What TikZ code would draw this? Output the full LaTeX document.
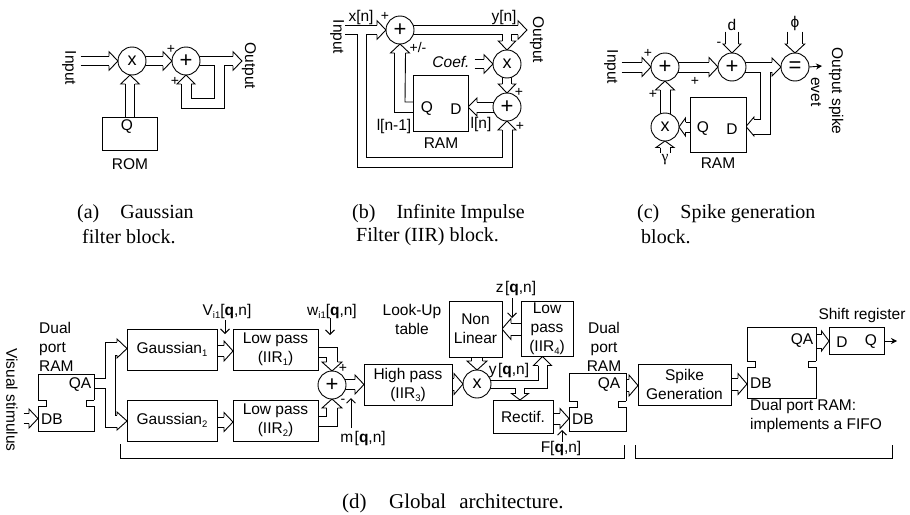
\documentclass[tikz,border=0pt]{standalone}
\usepackage{fontspec}
\setmainfont{Liberation Sans}
\newfontfamily\capfont{Liberation Serif}
\usetikzlibrary{arrows.meta,calc}
\pgfdeclarelayer{bg}\pgfsetlayers{bg,main}
\newcommand{\lowsub}[1]{\raisebox{-3pt}{\fontsize{9.5}{9.5}\selectfont #1}}
\newcommand{\qn}{\textbf{q},n}
\def\chevL{9}
% open arrow head: {tip}{rotation}{centre-line distance}{wing}
\newcommand{\chev}[4]{\draw[ln,shift={(#1)},rotate=#2] (-\chevL,{#3/2}) -- (-\chevL,{#3/2+#4}) -- (0,0) -- (-\chevL,{-#3/2-#4}) -- (-\chevL,{-#3/2});}
% two-line connector: [wing]{distance}{start}{tip}
\newcommand{\dblR}[4][4.5]{%
  \draw[ln] ($(#3 |- #4)+(-1.5,{-#2/2})$) -- ($(#4)+(-\chevL,{-#2/2})$);
  \draw[ln] ($(#3 |- #4)+(-1.5,{#2/2})$) -- ($(#4)+(-\chevL,{#2/2})$);
  \chev{#4}{0}{#2}{#1}}
\newcommand{\dblL}[4][4.5]{%
  \draw[ln] ($(#3 |- #4)+(1.5,{-#2/2})$) -- ($(#4)+(\chevL,{-#2/2})$);
  \draw[ln] ($(#3 |- #4)+(1.5,{#2/2})$) -- ($(#4)+(\chevL,{#2/2})$);
  \chev{#4}{180}{#2}{#1}}
\newcommand{\dblU}[4][4.5]{%
  \draw[ln] ($(#4 |- #3)+({-#2/2},1.5)$) -- ($(#4)+({-#2/2},\chevL)$);
  \draw[ln] ($(#4 |- #3)+({#2/2},1.5)$) -- ($(#4)+({#2/2},\chevL)$);
  \chev{#4}{90}{#2}{#1}}
\newcommand{\dblD}[4][4.5]{%
  \draw[ln] ($(#4 |- #3)+({-#2/2},-1.5)$) -- ($(#4)+({-#2/2},-\chevL)$);
  \draw[ln] ($(#4 |- #3)+({#2/2},-1.5)$) -- ($(#4)+({#2/2},-\chevL)$);
  \chev{#4}{-90}{#2}{#1}}
\newcommand{\ramtabs}[3]{%
  \draw[white,line width=1.4pt] ($(#1.north west)+(0,#2)$) -- ++(0,#3);
  \draw[white,line width=1.4pt] ($(#1.north east)+(0,#2)$) -- ++(0,#3);
  \draw[ln] ($(#1.north west)+(0,#2)$) -- ++(8,0) -- ++(0,#3) -- ++(-8,0);
  \draw[ln] ($(#1.north east)+(0,#2)$) -- ++(-8,0) -- ++(0,#3) -- ++(8,0);}
\tikzset{
  ln/.style={line width=.9pt,black},
  thinarr/.style={line width=.9pt,-{Straight Barb[length=4.5pt,width=9pt,line width=.9pt]}},
  solidarr/.style={line width=.9pt,-{Stealth[length=6pt,width=6pt]}},
  txt/.style={inner sep=0pt,font=\fontsize{15.5}{19}\selectfont,align=center},
  ltxt/.style={inner sep=0pt,font=\fontsize{15.5}{19}\selectfont,align=left},
  rot/.style={txt,rotate=-90},
  sgn/.style={inner sep=0pt,font=\fontsize{14}{14}\selectfont},
  sbox/.style 2 args={draw,line width=.9pt,fill=white,inner sep=0pt,outer sep=0pt,minimum width=#1pt,minimum height=#2pt,font=\fontsize{15.5}{19}\selectfont,align=center},
  circ/.style={draw,circle,line width=.9pt,fill=white,inner sep=0pt,outer sep=0pt,minimum size=28pt,font=\fontsize{22}{22}\selectfont},
  captxt/.style={inner sep=0pt,anchor=west,font=\capfont\fontsize{20}{24}\selectfont},
}
\begin{document}
\begin{tikzpicture}[x=1pt,y=-1pt]
\useasboundingbox (0,0) rectangle (910,514);
% ---------- panel a
\node[circ] (ax) at (132,61) {\fontsize{18}{18}\selectfont x};
\node[circ] (ap) at (186,61) {+};
\node[sbox={55}{33}] (arom) at (129.5,133.5) {};
\node[txt] (aq) at (127,127) {Q};
\node[txt] (aromt) at (130,164) {ROM};
\node[rot] (ainl) at (69,68) {Input};
\node[rot] (aoutl) at (249,66) {Output};
\node[sgn] (as1) at (171,49) {+};
\node[sgn] (as2) at (175,81) {+};
\coordinate (ain) at (82,61);
\coordinate (aout) at (242,61);
\coordinate (axb) at (130,75);
\begin{pgfonlayer}{bg}
\dblR{9.5}{ain}{ax.west}
\dblR{9.5}{ax.east}{ap.west}
\draw[ln] ($(ap.east)+(-1.5,-4.75)$) -- ($(aout)+(-9,-4.75)$);
\draw[ln] ($(ap.east)+(-1.5,4.75)$) -- (214,65.75) -- (214,98) -- (191,98) -- ($(ap.south)+(5,9)$);
\draw[ln] ($(aout)+(-9,4.75)$) -- (224,65.75) -- (224,108) -- (181,108) -- ($(ap.south)+(-5,9)$);
\chev{aout}{0}{9.5}{4.5}
\chev{ap.south}{90}{10}{4}
\dblU{9.5}{arom.north}{axb}
\end{pgfonlayer}
% ---------- panel b
\node[circ] (b1) at (400,30) {+};
\node[circ] (bx) at (507,64) {\fontsize{18}{18}\selectfont x};
\node[circ] (b2) at (507,107) {+};
\node[sbox={55}{56}] (bram) at (440.5,103) {};
\node[txt] (bq) at (427,109) {Q};
\node[txt] (bd) at (456,109) {D};
\node[txt] (bramt) at (441,143) {RAM};
\node[txt] (bxn) at (361,17) {x[n]};
\node[txt] (byn) at (504,17) {y[n]};
\node[rot] (binl) at (337,37) {Input};
\node[rot] (boutl) at (537,40) {Output};
\node[txt,font=\fontsize{15.5}{19}\selectfont\itshape] (bcoef) at (451,62) {Coef.};
\node[txt] (bl1) at (394,126) {l[n-1]};
\node[txt] (bl2) at (481,124) {l[n]};
\node[sgn] (bs1) at (385,16) {+};
\node[sgn] (bs2) at (418,47) {+/-};
\node[sgn] (bs3) at (519,92) {+};
\node[sgn] (bs4) at (520,126) {+};
\coordinate (bin) at (345,30);
\coordinate (bout) at (527,30);
\coordinate (bcf) at (476,64);
\coordinate (bdi) at (468,107);
\begin{pgfonlayer}{bg}
\draw[ln] ($(b1.east)+(-1.5,-4.75)$) -- ($(bout)+(-9,-4.75)$);
\draw[ln] ($(b1.east)+(-1.5,4.75)$) -- (502.25,34.75) -- ($(bx.north)+(-4.75,-9)$);
\draw[ln] ($(bout)+(-9,4.75)$) -- (511.75,34.75) -- ($(bx.north)+(4.75,-9)$);
\chev{bout}{0}{9.5}{4.5}
\chev{bx.north}{-90}{9.5}{4}
\draw[ln] (bin |- 0,25.25) -- ($(b1.west)+(-9,-4.75)$);
\draw[ln] (bin |- 0,34.75) -- (357,34.75) -- (357,167) -- (512,167) -- ($(b2.south)+(5,9)$);
\draw[ln] ($(b1.west)+(-9,4.75)$) -- (366,34.75) -- (366,157) -- (502,157) -- ($(b2.south)+(-5,9)$);
\chev{b1.west}{0}{9.5}{4.5}
\chev{b2.south}{90}{10}{4}
\dblR{9.5}{bcf}{bx.west}
\dblD[4]{9.5}{bx.south}{b2.north}
\dblL[4]{10}{b2.west}{bdi}
\draw[ln] ($(bram.west)+(1,-1)$) -- (405,102) -- ($(b1.south)+(5.5,9)$);
\draw[ln] ($(bram.west)+(1,9)$) -- (394.5,112) -- ($(b1.south)+(-5.5,9)$);
\chev{b1.south}{90}{11}{4}
\end{pgfonlayer}
% ---------- panel c
\node[circ] (c1) at (665,67) {+};
\node[circ] (c2) at (732,67) {+};
\node[circ] (ceq) at (795,67) {=};
\node[circ] (cx) at (665,127) {\fontsize{18}{18}\selectfont x};
\node[sbox={56}{55}] (cram) at (718,124.5) {};
\node[txt] (cq) at (703,129) {Q};
\node[txt] (cd) at (732,129) {D};
\node[txt] (cramt) at (718,163) {RAM};
\node[rot] (cinl) at (611,67) {Input};
\node[rot] (coutl) at (836,91) {Output spike};
\node[rot] (cevet) at (816,92) {evet};
\node[txt] (cdl) at (732,25) {d};
\node[txt] (cphi) at (795,23) {ϕ};
\node[txt,font=\capfont\fontsize{15.5}{19}\selectfont] (cgam) at (665,160) {γ};
\node[sgn] (cs1) at (648,53) {+};
\node[sgn] (cs2) at (695,81) {+};
\node[sgn] (cs3) at (653,94) {+};
\node[sgn] (cs4) at (719,44) {-};
\coordinate (cin) at (623,67);
\coordinate (cdin) at (732,33);
\coordinate (cpin) at (795,33);
\coordinate (cgin) at (665,151);
\coordinate (ceout) at (822,66);
\coordinate (cdi) at (746,126.5);
\begin{pgfonlayer}{bg}
\dblR{10}{cin}{c1.west}
\dblR{10}{c1.east}{c2.west}
\dblD[2.5]{13}{cdin}{c2.north}
\dblD[2]{15.5}{cpin}{ceq.north}
\dblU{10}{cx.north}{c1.south}
\def\chevL{6.5}
\dblU[4]{10}{cgin}{cx.south}
\dblL[4]{10}{cram.west}{cx.east}
\def\chevL{9}
\draw[ln] ($(c2.east)+(-1.5,-5)$) -- ($(ceq.west)+(-9,-5)$);
\draw[ln] ($(c2.east)+(-1.5,5)$) -- (760,72) -- (760,119) -- ($(cdi)+(8,-7.5)$);
\draw[ln] ($(ceq.west)+(-9,5)$) -- (770.5,72) -- (770.5,134) -- ($(cdi)+(8,7.5)$);
\chev{ceq.west}{0}{10}{4}
\def\chevL{8}
\chev{cdi}{180}{15}{2}
\def\chevL{9}
\end{pgfonlayer}
\draw[solidarr] (ceq.east) -- (ceout);
% ---------- panel d
\node[sbox={56}{57}] (r1) at (66,402.5) {};
\node[txt] (r1qa) at (80,385) {QA};
\node[txt] (r1db) at (52,419) {DB};
\node[ltxt,anchor=west] (r1t) at (39,346.5) {Dual\\port\\RAM};
\node[rot] (vis) at (12,400) {Visual stimulus};
\node[sbox={90}{41}] (g1) at (172,349.5) {Gaussian\lowsub{1}};
\node[sbox={90}{41}] (g2) at (172,420.5) {Gaussian\lowsub{2}};
\node[sbox={85}{41}] (lp1) at (275.5,349.5) {Low pass\\(IIR\lowsub{1})};
\node[sbox={85}{41}] (lp2) at (275.5,420.5) {Low pass\\(IIR\lowsub{2})};
\node[circ] (sum) at (332,385) {+};
\node[sbox={88}{41}] (hp) at (408,384.5) {High pass\\(IIR\lowsub{3})};
\node[circ] (mx) at (477,384) {\fontsize{18}{18}\selectfont x};
\node[sbox={53}{56}] (nl) at (475.5,329) {Non\\Linear};
\node[sbox={52}{55}] (lp4) at (547,328.5) {Low\\pass\\(IIR\lowsub{4})};
\node[sbox={60}{33}] (rect) at (523,416.5) {Rectif.};
\node[sbox={57}{58}] (r2) at (597.5,402) {};
\node[txt] (r2qa) at (609,385) {QA};
\node[txt] (r2db) at (583,419) {DB};
\node[txt] (r2t) at (604,346.5) {Dual\\port\\RAM};
\node[sbox={93}{41}] (sp) at (684.5,384.5) {Spike\\Generation};
\node[sbox={69}{71}] (r3) at (781.5,362.5) {};
\node[txt] (r3qa) at (802,341) {QA};
\node[txt] (r3db) at (761,383) {DB};
\node[ltxt,anchor=west] (r3t) at (750,415.5) {Dual port RAM:\\implements a FIFO};
\node[sbox={55}{27}] (dq) at (856.5,340.5) {};
\node[txt] (dqd) at (842,342) {D};
\node[txt] (dqq) at (871,342) {Q};
\node[txt] (dqt) at (862,315) {Shift register};
\node[txt] (lvi) at (227,311) {V\lowsub{i1}[\qn]};
\node[txt] (lw) at (332,311) {w\lowsub{i1}[\qn]};
\node[txt] (lm) at (363,438) {m\hspace{1.5pt}[\qn]};
\node[txt] (lz) at (516,288) {z\hspace{1.5pt}[\qn]};
\node[txt] (ly) at (509,370) {y\hspace{1.5pt}[\qn]};
\node[txt] (lf) at (561,448) {F[\qn]};
\node[txt] (lut) at (412,319) {Look-Up\\table};
\node[sgn] (ss1) at (343,368) {+};
\node[sgn] (ss2) at (343,401) {-};
\ramtabs{r1}{26}{6}
\ramtabs{r2}{28}{6}
\ramtabs{r3}{34}{6}
\coordinate (visin) at (25,418.5);
\coordinate (r1in) at (38,418.5);
\coordinate (g1h) at (127,348.5);
\coordinate (g2h) at (127,421);
\coordinate (lp1in) at (233,351);
\coordinate (lp2in) at (233,422);
\coordinate (nlin) at (502,329);
\coordinate (lp4in) at (542.5,356.5);
\coordinate (rectin) at (520,400);
\coordinate (r2in) at (569,418.5);
\coordinate (spin) at (638,385.5);
\coordinate (r3in) at (747,384);
\coordinate (dqin) at (829,341);
\coordinate (lvs) at (225,320);
\coordinate (lve) at (225,334);
\coordinate (lws) at (330,318);
\coordinate (lwe) at (330,335);
\coordinate (lms) at (351,428);
\coordinate (lme) at (351,398);
\coordinate (lzs) at (512,298);
\coordinate (lze) at (512,318);
\coordinate (lfs) at (562,442);
\coordinate (lfe) at (562,430);
\coordinate (brA1) at (120,444);
\coordinate (brA2) at (624,445);
\coordinate (brB1) at (635,445);
\coordinate (brB2) at (892,445);
\coordinate (dqo) at (897,341);
\begin{pgfonlayer}{bg}
\dblR{10}{visin}{r1in}
\draw[ln] (r1.east |- 0,378) -- (105,378) -- (105,342) -- ($(g1h)+(-10,-6.5)$);
\draw[ln] (r1.east |- 0,388) -- (105,388) -- (105,427) -- ($(g2h)+(-10,6)$);
\draw[ln] ($(g1h)+(-10,6.5)$) -- (115,355) -- (115,415) -- ($(g2h)+(-10,-6)$);
\def\chevL{10}
\chev{g1h}{0}{13}{3}
\chev{g2h}{0}{12}{3}
\def\chevL{9}
\dblR{11}{g1.east}{lp1in}
\dblR{10}{g2.east}{lp2in}
\draw[ln] (lp1.east |- 0,347) -- (337.5,347) -- ($(sum.north)+(5.5,-9)$);
\draw[ln] (lp1.east |- 0,357) -- (326.5,357) -- ($(sum.north)+(-5.5,-9)$);
\chev{sum.north}{-90}{11}{4.5}
\draw[ln] (lp2.east |- 0,416) -- (326.5,416) -- ($(sum.south)+(-5.5,9)$);
\draw[ln] (lp2.east |- 0,426) -- (337.5,426) -- ($(sum.south)+(5.5,9)$);
\chev{sum.south}{90}{11}{4.5}
\dblR{10}{sum.east}{hp.west}
\dblR{12}{hp.east}{mx.west}
\dblD{11}{nl.south}{mx.north}
\dblL{12}{lp4.west}{nlin}
\draw[ln] ($(mx.east)+(-1.5,-4)$) -- (538,380) -- ($(lp4in)+(-4.5,9)$);
\draw[ln] ($(mx.east)+(-1.5,4.5)$) -- (515.5,388.5) -- ($(rectin)+(-4.5,-6.5)$);
\draw[ln] ($(lp4in)+(4.5,9)$) -- (547,388.5) -- (524.5,388.5) -- ($(rectin)+(4.5,-6.5)$);
\chev{lp4in}{90}{9}{4.5}
\def\chevL{6.5}
\chev{rectin}{-90}{9}{4}
\def\chevL{9}
\dblR{11}{rect.east}{r2in}
\dblR{12}{r2.east}{spin}
\dblR{12}{sp.east}{r3in}
\def\chevL{7.5}
\dblR[3]{14}{r3.east}{dqin}
\def\chevL{9}
\end{pgfonlayer}
\draw[thinarr] (lvs) -- (lve);
\draw[thinarr] (lws) -- (lwe);
\draw[thinarr] (lms) -- (lme);
\draw[thinarr] (lzs) -- (lze);
\draw[thinarr] (lfs) -- (lfe);
\draw[solidarr] (dq.east |- dqo) -- (dqo);
\draw[ln] (brA1) -- (120,458) -- (624,458) -- (brA2);
\draw[ln] (brB1) -- (635,458) -- (892,458) -- (brB2);
% ---------- captions
\node[captxt] (ca1) at (77,213.5) {(a)\hspace{1.05em}Gaussian};
\node[captxt] (ca2) at (82,237) {filter block.};
\node[captxt] (cb1) at (352,213.5) {(b)\hspace{1.05em}Infinite Impulse};
\node[captxt] (cb2) at (356,237) {Filter (IIR) block.};
\node[captxt] (cc1) at (637,213.5) {(c)\hspace{1.05em}Spike generation};
\node[captxt] (cc2) at (641,237) {block.};
\node[captxt,font=\capfont\fontsize{21}{24}\selectfont] (cd1) at (342,503) {(d)\hspace{1.07em}Global\hspace{.62em}architecture.};
\end{tikzpicture}
\end{document}
